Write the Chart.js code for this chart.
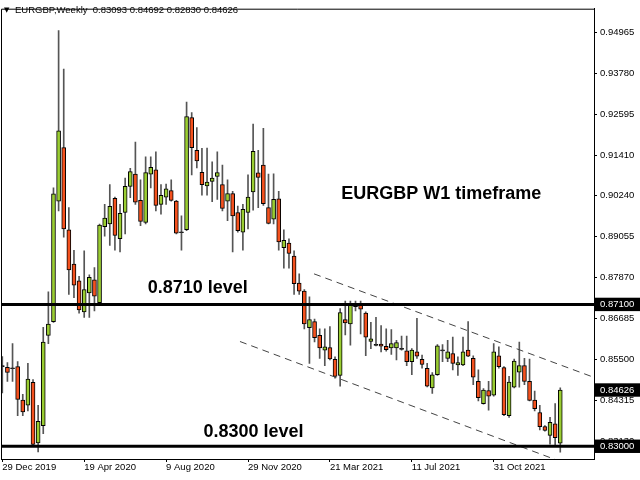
<!DOCTYPE html>
<html>
<head>
<meta charset="utf-8">
<script src="https://cdn.jsdelivr.net/npm/chart.js@4.4.0/dist/chart.umd.min.js"></script>
<style>
  html, body { margin: 0; padding: 0; background: #fff; }
</style>
</head>
<body>
<canvas id="chart" width="640" height="480"></canvas>
<script>
// Weekly EURGBP candles, 29 Dec 2019 .. 30 Jan 2022 (one entry per week)
const opens  = [0.8532,0.85283,0.8526,0.85303,0.84337,0.84186,0.84848,0.83095,0.83598,0.86204,
  0.86602,0.90086,0.91632,0.89253,0.88267,0.87784,0.86886,0.87434,0.87812,0.8715,
  0.89347,0.89424,0.90163,0.88997,0.89756,0.90512,0.90864,0.90106,0.89472,0.90864,
  0.90987,0.89992,0.90199,0.9039,0.90086,0.89185,0.89262,0.92501,0.91555,0.90921,
  0.90523,0.90654,0.90796,0.9056,0.90086,0.90305,0.89756,0.89188,0.89756,0.90353,
  0.90901,0.91129,0.89898,0.89566,0.90154,0.88742,0.88875,0.88494,0.87719,0.87483,
  0.86431,0.86602,0.86204,0.85778,0.85852,0.85511,0.85047,0.86659,0.86534,0.87102,
  0.87102,0.86846,0.86034,0.85925,0.85957,0.85891,0.85843,0.85843,0.85812,0.85758,
  0.85445,0.85729,0.85511,0.85255,0.84687,0.85067,0.85762,0.85539,0.85681,0.85351,
  0.85351,0.85778,0.85539,0.84877,0.84232,0.84613,0.84479,0.85616,0.85275,0.83882,
  0.84706,0.85141,0.85332,0.84877,0.84337,0.83976,0.8357,0.83314,0.83646,0.83093];
const highs  = [0.8559,0.85417,0.85965,0.85445,0.84499,0.85397,0.84925,0.84186,0.8644,0.87463,
  0.90467,0.95013,0.93905,0.89898,0.88665,0.87909,0.88648,0.87955,0.88165,0.89424,
  0.89992,0.9056,0.90199,0.89992,0.90751,0.91035,0.91791,0.90702,0.91365,0.91365,
  0.91507,0.9056,0.9058,0.90702,0.90106,0.8966,0.92947,0.92643,0.92209,0.91612,
  0.9162,0.91222,0.91507,0.91129,0.90702,0.9037,0.89944,0.89992,0.90845,0.92314,
  0.91555,0.92189,0.90864,0.90873,0.9037,0.89253,0.88997,0.88648,0.87983,0.87528,
  0.87321,0.86676,0.86392,0.86392,0.8646,0.85587,0.8698,0.87199,0.87199,0.87199,
  0.87199,0.86886,0.86582,0.86724,0.86488,0.86392,0.86375,0.86062,0.86184,0.86184,
  0.85823,0.86696,0.85636,0.85397,0.85133,0.85937,0.85937,0.86062,0.86156,0.85587,
  0.86156,0.86602,0.85616,0.85209,0.84669,0.84877,0.85965,0.85872,0.85303,0.85019,
  0.85522,0.86014,0.85539,0.85522,0.84593,0.84186,0.83598,0.83834,0.84232,0.84692];
const lows   = [0.8454,0.84877,0.84877,0.83882,0.83882,0.84024,0.8303,0.82839,0.83362,0.85965,
  0.86582,0.89802,0.89046,0.87386,0.87292,0.86846,0.86724,0.86724,0.86914,0.87102,
  0.89074,0.88807,0.88665,0.88619,0.8914,0.90182,0.89992,0.89375,0.89424,0.90467,
  0.89802,0.89708,0.89992,0.90086,0.8914,0.88665,0.89233,0.90845,0.91043,0.90256,
  0.90256,0.90069,0.90134,0.89802,0.89517,0.88619,0.89188,0.88665,0.89282,0.89822,
  0.89898,0.89964,0.89424,0.89424,0.88665,0.88145,0.88145,0.87386,0.87386,0.86392,
  0.85397,0.86014,0.85539,0.85332,0.85494,0.84971,0.84735,0.86221,0.8592,0.86914,
  0.86249,0.85616,0.85823,0.859,0.85729,0.85749,0.85653,0.85494,0.85778,0.85332,
  0.85067,0.85539,0.85255,0.84715,0.84527,0.85047,0.85445,0.85445,0.85209,0.85047,
  0.85332,0.85587,0.84783,0.84309,0.84215,0.84044,0.84451,0.85255,0.83882,0.83834,
  0.84687,0.84706,0.84783,0.84309,0.84024,0.83476,0.83436,0.83058,0.8303,0.8283];
const closes = [0.8530,0.85133,0.8524,0.84357,0.83996,0.84942,0.8305,0.8372,0.86014,0.86534,
  0.90296,0.92115,0.89282,0.88097,0.87653,0.86943,0.87528,0.87881,0.87341,0.89395,
  0.89594,0.89935,0.89091,0.89736,0.90512,0.90938,0.90057,0.895,0.9091,0.91063,
  0.89964,0.90256,0.90438,0.90106,0.89159,0.8917,0.9253,0.91632,0.91251,0.9056,
  0.90637,0.90751,0.9091,0.89878,0.90305,0.8966,0.89233,0.8985,0.90199,0.91527,
  0.90768,0.90012,0.89443,0.90134,0.88904,0.88949,0.88571,0.87699,0.87483,0.86534,
  0.86659,0.86136,0.85843,0.85872,0.85522,0.85019,0.86866,0.86562,0.87085,0.87037,
  0.8696,0.86156,0.86107,0.85915,0.85891,0.85795,0.85965,0.85994,0.858,0.85445,
  0.85778,0.85607,0.85369,0.84735,0.85067,0.859,0.85755,0.85729,0.85397,0.85417,
  0.85729,0.85607,0.84999,0.84402,0.84626,0.84451,0.85729,0.85303,0.83911,0.84857,
  0.85465,0.85332,0.84877,0.84328,0.8409,0.8357,0.83456,0.83692,0.83249,0.84626];

// x axis date labels (week index -> label)
const dateTickIdx = [0, 16, 32, 48, 64, 80, 96];
const dateLabels = ['29 Dec 2019', '19 Apr 2020', '9 Aug 2020', '29 Nov 2020', '21 Mar 2021', '11 Jul 2021', '31 Oct 2021'];

// price axis
const priceTicks = [0.94965, 0.93780, 0.92595, 0.91410, 0.90240, 0.89055, 0.87870, 0.86685, 0.85500, 0.84315, 0.83130];
const markedPrices = [0.87100, 0.84626, 0.83000];

// horizontal levels and the dashed channel
const levels = [0.871, 0.83];
const upperChannelX = [60.9, 115.59];
const upperChannelY = [0.87983, 0.84991];
const lowerChannelX = [46.43, 109.53];
const lowerChannelY = [0.86028, 0.82533];

const xMin = -0.254, xMax = 115.59;
const yMin = 0.82632, yMax = 0.95647;

const UP = '#9acd32', DOWN = '#f4511e', DOJI = '#333333';

const candleColor = opens.map((o, i) => {
    if (Math.abs(o - closes[i]) < 0.0002) return DOJI;
    return closes[i] > o ? UP : DOWN;
});

const wickData = opens.map((o, i) => ({ x: i, y: [lows[i], highs[i]] }));
const bodyData = opens.map((o, i) => ({ x: i, y: [Math.min(o, closes[i]), Math.max(o, closes[i])] }));

const levelSets = levels.map(v => ({
    type: 'line',
    data: [{ x: xMin, y: v }, { x: xMax, y: v }],
    borderColor: '#000',
    borderWidth: 3,
    pointRadius: 0,
    order: 0
}));

const channelSet = (xs, ys) => ({
    type: 'line',
    data: xs.map((x, i) => ({ x: x, y: ys[i] })),
    borderColor: '#444',
    borderWidth: 1,
    borderDash: [7, 5],
    pointRadius: 0,
    order: 0
});

// text placed in data coordinates
const notes = [
    { text: 'EURGBP W1 timeframe', x: 66.2, y: 0.90276 },
    { text: '0.8710 level', x: 28.4, y: 0.87577 },
    { text: '0.8300 level', x: 39.3, y: 0.83399 }
];

const framePlugin = {
    id: 'frame',
    afterDraw(chart) {
        const { ctx, chartArea: a } = chart;
        ctx.save();
        ctx.strokeStyle = '#000';
        ctx.lineWidth = 1;
        ctx.beginPath();
        ctx.moveTo(a.left + 0.5, a.bottom);
        ctx.lineTo(a.left + 0.5, a.top + 0.5);
        ctx.lineTo(a.right, a.top + 0.5);
        ctx.stroke();

        // header
        ctx.fillStyle = '#000';
        ctx.textBaseline = 'middle';
        ctx.font = '7px "DejaVu Sans"';
        ctx.fillText('\u25BC', 4, 10);
        ctx.font = '9.5px "Liberation Sans"';
        ctx.fillText('EURGBP,Weekly  0.83093 0.84692 0.82830 0.84626', 15, 10);

        // notes
        ctx.font = 'bold 18px "Liberation Sans"';
        notes.forEach(n => {
            ctx.fillText(n.text, chart.scales.x.getPixelForValue(n.x), chart.scales.y.getPixelForValue(n.y));
        });
        ctx.restore();
    }
};

const isMarked = v => markedPrices.some(m => Math.abs(m - v) < 1e-7);

new Chart(document.getElementById('chart'), {
    type: 'bar',
    data: {
        datasets: [
            ...levelSets,
            channelSet(upperChannelX, upperChannelY),
            channelSet(lowerChannelX, lowerChannelY),
            {
                data: bodyData,
                backgroundColor: candleColor,
                borderColor: '#000',
                borderWidth: 1,
                borderSkipped: false,
                barThickness: 4,
                minBarLength: 1,
                grouped: false,
                order: 1
            },
            {
                data: wickData,
                backgroundColor: '#555',
                borderWidth: 0,
                barThickness: 1,
                grouped: false,
                order: 2
            }
        ]
    },
    options: {
        responsive: false,
        animation: false,
        devicePixelRatio: 1,
        layout: { padding: { left: 1, top: 1, right: 0, bottom: 0 } },
        plugins: { legend: { display: false }, tooltip: { enabled: false } },
        scales: {
            x: {
                type: 'linear',
                min: xMin,
                max: xMax,
                offset: false,
                position: 'bottom',
                afterBuildTicks: s => { s.ticks = dateTickIdx.map(v => ({ value: v })); },
                afterFit: s => { s.height = 21; },
                ticks: {
                    align: 'start',
                    autoSkip: false,
                    maxRotation: 0,
                    padding: 0,
                    color: '#000',
                    font: { family: 'Liberation Sans', size: 9.5 },
                    callback: (v, i) => dateLabels[i]
                },
                grid: { display: true, offset: false, drawOnChartArea: false, drawTicks: true, tickLength: 3, color: '#000' },
                border: { display: true, color: '#000' }
            },
            y: {
                type: 'linear',
                position: 'right',
                min: yMin,
                max: yMax,
                afterBuildTicks: s => { s.ticks = priceTicks.concat(markedPrices).map(v => ({ value: v })); },
                afterFit: s => { s.width = 46; },
                ticks: {
                    autoSkip: false,
                    padding: 3,
                    font: { family: 'Liberation Sans', size: 9.5 },
                    color: c => isMarked(c.tick.value) ? '#fff' : '#000',
                    showLabelBackdrop: true,
                    backdropColor: c => isMarked(c.tick.value) ? '#000' : 'rgba(0,0,0,0)',
                    backdropPadding: { left: 5, right: 6, top: 1, bottom: 1 },
                    callback: v => v.toFixed(5)
                },
                grid: { display: true, drawOnChartArea: false, drawTicks: true, tickLength: 3, color: '#000' },
                border: { display: true, color: '#000' }
            }
        }
    },
    plugins: [framePlugin]
});
</script>
</body>
</html>
